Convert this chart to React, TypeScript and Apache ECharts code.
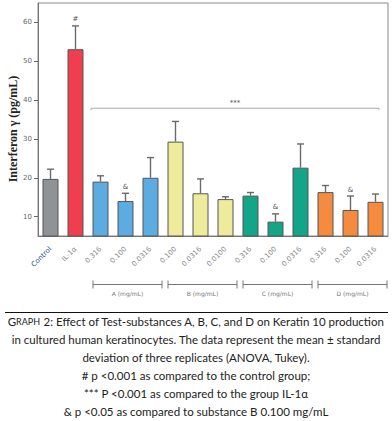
import React, { useEffect, useRef } from "react";
import * as echarts from "echarts";

const categories = [
  "Control", "IL-1α",
  "A 0.316", "A 0.100", "A 0.0316",
  "B 0.100", "B 0.0316", "B 0.0100",
  "C 0.316", "C 0.100", "C 0.0316",
  "D 0.316", "D 0.100", "D 0.0316",
];
const tickLabels = [
  "Control", "IL-1α",
  "0.316", "0.100", "0.0316",
  "0.100", "0.0316", "0.0100",
  "0.316", "0.100", "0.0316",
  "0.316", "0.100", "0.0316",
];
const means = [19.7, 53.1, 19.0, 14.0, 20.0, 29.3, 16.0, 14.5, 15.4, 8.7, 22.6, 16.3, 11.7, 13.8];
const sds = [2.5, 6.0, 1.5, 2.0, 5.2, 5.2, 3.7, 0.6, 0.8, 2.0, 6.1, 1.7, 3.6, 2.0];
const marks = ["", "#", "", "&", "", "", "", "", "", "&", "", "", "&", ""];
const barColors = [
  "#8f9396", "#ef3f4f",
  "#5cace2", "#5cace2", "#5cace2",
  "#efeb9c", "#efeb9c", "#efeb9c",
  "#12a588", "#12a588", "#12a588",
  "#f58b3e", "#f58b3e", "#f58b3e",
];
const groupLabels = ["A (mg/mL)", "B (mg/mL)", "C (mg/mL)", "D (mg/mL)"];
const groupStart = [2, 5, 8, 11];
const groupEnd = [4, 7, 10, 13];
const bracketLevel = 37.9;
const bracketText = "***";
const yTicks = [10, 20, 30, 40, 50, 60];
const yTitle = "Interferon γ (pg/mL)";
const captionLines = [
  "in cultured human keratinocytes. The data represent the mean ± standard",
  "deviation of three replicates (ANOVA, Tukey).",
  "# p <0.001 as compared to the control group;",
  "*** P <0.001 as compared to the group IL-1α",
  "& p <0.05 as compared to substance B 0.100 mg/mL",
];

const CAPTION_FONT = "Lato, 'Open Sans', sans-serif";

export default function App() {
  const ref = useRef<HTMLDivElement>(null);
  useEffect(() => {
    if (!ref.current) return;
    const chart = echarts.init(ref.current, undefined, { renderer: "svg" });

    const errStyle = { stroke: "#6a6a6a", lineWidth: 1.4 };

    const option: any = {
      animation: false,
      backgroundColor: "#ffffff",
      grid: {
        left: 38, right: 4, top: 3, bottom: 185,
        show: true, borderColor: "#8a8a8a", borderWidth: 1,
      },
      xAxis: {
        type: "category",
        data: categories,
        axisLine: { lineStyle: { color: "#777", width: 1 } },
        axisTick: { alignWithLabel: true, length: 3, interval: 0, lineStyle: { color: "#666" } },
        axisLabel: {
          interval: 0, rotate: 45, fontSize: 7, margin: 12,
          fontFamily: "'DejaVu Sans', sans-serif",
          color: (v: string, i: number) => (i === 0 ? "#2c4f8f" : "#8a8a8a"),
          formatter: (_v: string, i: number) => tickLabels[i],
        },
      },
      yAxis: {
        type: "value",
        min: 5, max: 65,
        splitLine: { show: false },
        axisLine: { show: true, lineStyle: { color: "#777", width: 1 } },
        axisTick: { show: true, length: 4, customValues: yTicks, lineStyle: { color: "#666" } },
        axisLabel: {
          fontSize: 7, color: "#666", margin: 6, customValues: yTicks,
          fontFamily: "'DejaVu Sans', sans-serif",
        },
      },
      series: [
        {
          type: "bar",
          barWidth: 16,
          data: means.map((m, i) => ({ value: m, itemStyle: { color: barColors[i] } })),
          itemStyle: { borderColor: "#555", borderWidth: 1 },
          z: 2,
        },
        {
          type: "custom",
          z: 3,
          encode: { x: 0, y: 1 },
          data: means.map((m, i) => [i, m, sds[i]]),
          renderItem: (_params: any, api: any) => {
            const i = api.value(0);
            const m = api.value(1);
            const e = api.value(2);
            const p0 = api.coord([i, m]);
            const p1 = api.coord([i, m + e]);
            const children: any[] = [
              { type: "line", shape: { x1: p0[0], y1: p0[1], x2: p1[0], y2: p1[1] }, style: errStyle },
              { type: "line", shape: { x1: p1[0] - 3.5, y1: p1[1], x2: p1[0] + 3.5, y2: p1[1] }, style: errStyle },
            ];
            if (marks[i]) {
              children.push({
                type: "text", x: p1[0], y: p1[1] - 3,
                style: {
                  text: marks[i], align: "center", verticalAlign: "bottom",
                  fontSize: 7, fill: "#555", fontFamily: "'DejaVu Sans', sans-serif",
                },
              });
            }
            return { type: "group", children };
          },
        },
        {
          type: "custom",
          z: 3,
          encode: { x: 0, y: 1 },
          data: [[2, bracketLevel]],
          renderItem: (_params: any, api: any) => {
            const bw = api.size([1, 0])[0];
            const pL = api.coord([2, bracketLevel]);
            const pR = api.coord([13, bracketLevel]);
            const xL = pL[0] - 0.38 * bw;
            const xR = pR[0] + 0.14 * bw;
            const y = pL[1];
            const st = { stroke: "#aaa", lineWidth: 1 };
            return {
              type: "group",
              children: [
                { type: "line", shape: { x1: xL, y1: y, x2: xR, y2: y }, style: st },
                { type: "line", shape: { x1: xL, y1: y, x2: xL, y2: y + 2 }, style: st },
                { type: "line", shape: { x1: xR, y1: y, x2: xR, y2: y + 2 }, style: st },
                {
                  type: "text", x: (xL + xR) / 2, y: y - 2,
                  style: {
                    text: bracketText, align: "center", verticalAlign: "bottom",
                    fontSize: 7, fill: "#555", fontFamily: "'DejaVu Sans', sans-serif",
                  },
                },
              ],
            };
          },
        },
        {
          type: "custom",
          z: 3,
          encode: { x: 0, y: 2 },
          data: groupStart.map((s, k) => [s, groupEnd[k], 10 + k]),
          renderItem: (params: any, api: any) => {
            const bw = api.size([1, 0])[0];
            const s = api.value(0);
            const e = api.value(1);
            const k = api.value(2) - 10;
            const xL = api.coord([s, 10])[0] - 0.3 * bw;
            const xR = api.coord([e, 10])[0] + 0.46 * bw;
            const y = params.coordSys.y + params.coordSys.height + 48.5;
            const st = { stroke: "#777", lineWidth: 1 };
            return {
              type: "group",
              children: [
                { type: "line", shape: { x1: xL, y1: y, x2: xR, y2: y }, style: st },
                { type: "line", shape: { x1: xL, y1: y - 4, x2: xL, y2: y + 4 }, style: st },
                { type: "line", shape: { x1: xR, y1: y - 4, x2: xR, y2: y + 4 }, style: st },
                {
                  type: "text", x: (xL + xR) / 2, y: y + 9,
                  style: {
                    text: groupLabels[k], align: "center", verticalAlign: "middle",
                    fontSize: 6, fill: "#777", fontFamily: "'DejaVu Sans', sans-serif",
                  },
                },
              ],
            };
          },
        },
      ],
      graphic: [
        {
          type: "text", x: 13, y: 129, rotation: Math.PI / 2,
          style: {
            text: yTitle, align: "center", verticalAlign: "middle",
            fontSize: 12, fontWeight: "bold", fill: "#222",
            fontFamily: "'Liberation Serif', 'DejaVu Serif', serif",
          },
        },
        {
          type: "line", shape: { x1: 5, y1: 312.5, x2: 388, y2: 312.5 },
          style: { stroke: "#111", lineWidth: 1 },
        },
        {
          type: "text", x: 196, y: 321,
          style: {
            text: "{a|G}{b|RAPH}{a| 2: Effect of Test-substances A, B, C, and D on Keratin 10 production}",
            align: "center", verticalAlign: "middle",
            rich: {
              a: { fontSize: 11.5, fill: "#222", fontFamily: CAPTION_FONT },
              b: { fontSize: 9, fill: "#222", fontFamily: CAPTION_FONT },
            },
          },
        },
        ...captionLines.map((t, k) => ({
          type: "text", x: 196, y: 339 + k * 18,
          style: {
            text: t, align: "center", verticalAlign: "middle",
            fontSize: 11.5, fill: "#222", fontFamily: CAPTION_FONT,
          },
        })),
      ],
    };
    chart.setOption(option);
    return () => chart.dispose();
  }, []);
  return (
    <div
      ref={ref}
      style={{ position: "absolute", left: 0, top: 0, width: 392, height: 421, background: "#fff" }}
    />
  );
}
